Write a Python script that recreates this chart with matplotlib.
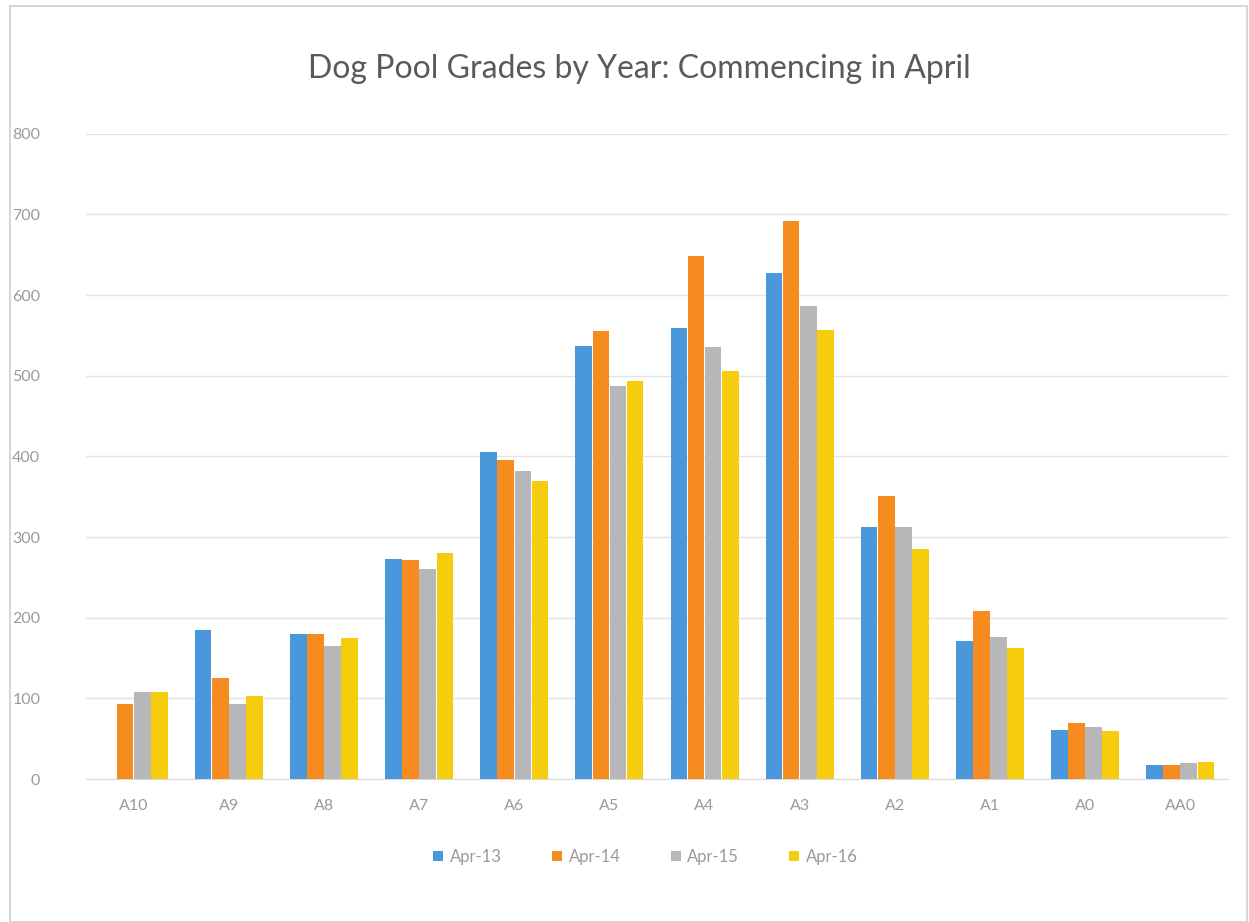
import matplotlib
matplotlib.use("Agg")
import matplotlib.pyplot as plt
from matplotlib.patches import Rectangle
import numpy as np

categories = ["A10", "A9", "A8", "A7", "A6", "A5", "A4", "A3", "A2", "A1", "A0", "AA0"]
apr13 = [0, 185, 180, 273, 405, 537, 559, 627, 312, 171, 61, 18]
apr14 = [93, 125, 180, 272, 396, 555, 649, 692, 351, 208, 69, 17]
apr15 = [108, 93, 165, 261, 382, 487, 535, 586, 312, 176, 65, 20]
apr16 = [108, 103, 175, 280, 370, 493, 506, 557, 285, 162, 60, 21]
series_names = ["Apr-13", "Apr-14", "Apr-15", "Apr-16"]
series_colors = ["#4a97dc", "#f68b1f", "#b7b7ba", "#f6cd0c"]
yticks = [0, 100, 200, 300, 400, 500, 600, 700, 800]

plt.rcParams['font.family'] = ['Lato', 'DejaVu Sans']

fig = plt.figure(figsize=(12.49, 9.22), dpi=100)
ax = fig.add_axes([0.069, 0.155, 0.914, 0.700])

x = np.arange(len(categories))
w = 0.18
all_series = [apr13, apr14, apr15, apr16]
for i, (vals, name, col) in enumerate(zip(all_series, series_names, series_colors)):
    ax.bar(x + (i - 1.5) * w, vals, width=w * 0.97, color=col, label=name, zorder=3)

ax.set_xlim(-0.5, len(categories) - 0.5)
ax.set_ylim(0, 800)
ax.set_yticks(yticks)
ax.set_xticks(x)
ax.set_xticklabels(categories)
ax.yaxis.grid(True, color="#e3e3e3", linewidth=1.0, zorder=0)
ax.set_axisbelow(True)
for s in ["top", "right", "left"]:
    ax.spines[s].set_visible(False)
ax.spines["bottom"].set_color("#d9d9d9")
ax.tick_params(axis="both", length=0, colors="#9a9a9a", labelsize=11.5)
ax.tick_params(axis="x", pad=14)
ax.tick_params(axis="y", pad=33)

fig.text(0.512, 0.925, "Dog Pool Grades by Year: Commencing in April", ha="center", va="center",
         fontsize=23, color="#5a5a5a")

leg = ax.legend(loc="upper center", bbox_to_anchor=(0.49, -0.085), ncol=4, frameon=False,
                fontsize=12, handlelength=0.6, handleheight=0.6, handletextpad=0.4,
                columnspacing=3.0)
for t in leg.get_texts():
    t.set_color("#9a9a9a")

fig.patches.append(Rectangle((0.008, 0.0), 0.99, 0.993, transform=fig.transFigure,
                             fill=False, edgecolor="#d0d0d0", linewidth=1.2))

fig.savefig("out.png", dpi=100)
